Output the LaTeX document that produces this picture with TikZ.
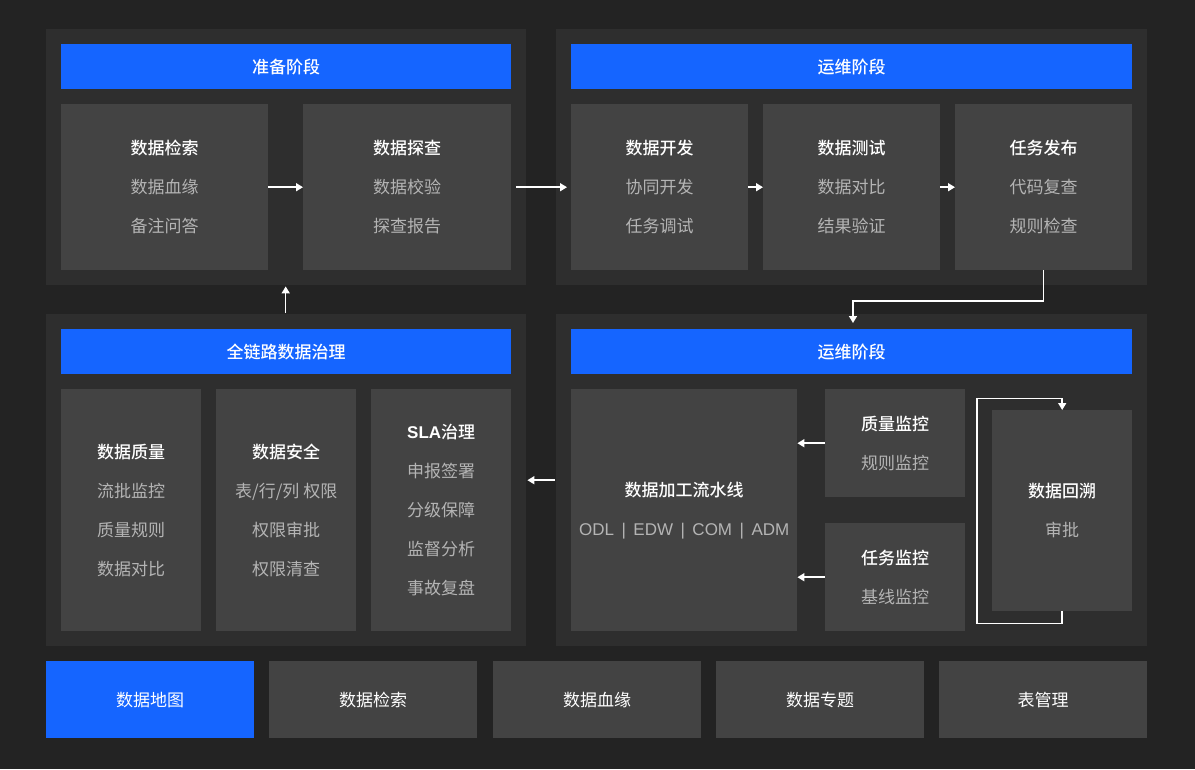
\documentclass[tikz,border=0pt]{standalone}
\usepackage{fontspec}
\setmainfont{Noto Sans CJK SC}[BoldFont={Noto Sans CJK SC Medium}]
\newfontfamily\latinfont{Liberation Sans}
\usetikzlibrary{arrows.meta,positioning,calc}
\definecolor{bgdark}{HTML}{232323}
\definecolor{panelgray}{HTML}{2E2E2E}
\definecolor{boxgray}{HTML}{434343}
\definecolor{headblue}{HTML}{1565FF}
\definecolor{subgray}{HTML}{B4B4B4}
\newcommand{\sub}[1]{{\color{subgray}#1}}
\newcommand{\sepbar}{\hspace{7.5pt}|\hspace{7.5pt}}
\tikzset{
  panel/.style={fill=panelgray, anchor=north west, inner sep=0pt},
  header/.style={fill=headblue, anchor=north west, minimum height=45, inner sep=0pt,
    text=white, font=\fontsize{17pt}{20pt}\selectfont\bfseries},
  card/.style={fill=boxgray, anchor=north west, inner sep=0pt, align=center,
    text=white, font=\fontsize{17pt}{39pt}\selectfont},
  navbox/.style={fill=boxgray, anchor=north west, inner sep=0pt, minimum width=208,
    minimum height=77, text=white, font=\fontsize{17pt}{20pt}\selectfont},
  arr/.style={draw=white, line width=1.5pt, -{Triangle[length=7pt,width=8pt]}}
}
\begin{document}
\begin{tikzpicture}[x=1pt,y=-1pt]
  \path[use as bounding box, fill=bgdark] (0,0) rectangle (1195,769);

  % panels
  \node[panel, minimum width=480, minimum height=256] (p1) at (46,29) {};
  \node[panel, minimum width=591, minimum height=256] (p2) at (556,29) {};
  \node[panel, minimum width=480, minimum height=332] (p3) at (46,314) {};
  \node[panel, minimum width=591, minimum height=332] (p4) at (556,314) {};

  % preparation
  \node[header, minimum width=450] (h1) at (61,44) {准备阶段};
  \node[card, minimum width=207, minimum height=166] (search) at (61,104)
    {\textbf{数据检索}\\ \sub{数据血缘}\\ \sub{备注问答}};
  \node[card, minimum width=208, minimum height=166] (probe) at (303,104)
    {\textbf{数据探查}\\ \sub{数据校验}\\ \sub{探查报告}};

  % development
  \node[header, minimum width=561] (h2) at (571,44) {运维阶段};
  \node[card, minimum width=177, minimum height=166] (dev) at (571,104)
    {\textbf{数据开发}\\ \sub{协同开发}\\ \sub{任务调试}};
  \node[card, minimum width=177, minimum height=166] (test) at (763,104)
    {\textbf{数据测试}\\ \sub{数据对比}\\ \sub{结果验证}};
  \node[card, minimum width=177, minimum height=166] (publish) at (955,104)
    {\textbf{任务发布}\\ \sub{代码复查}\\ \sub{规则检查}};

  % governance
  \node[header, minimum width=450] (h3) at (61,329) {全链路数据治理};
  \node[card, minimum width=140, minimum height=242] (quality) at (61,389)
    {\textbf{数据质量}\\ \sub{流批监控}\\ \sub{质量规则}\\ \sub{数据对比}};
  \node[card, minimum width=140, minimum height=242] (safety) at (216,389)
    {\textbf{数据安全}\\ \sub{表/行/列 权限}\\ \sub{权限审批}\\ \sub{权限清查}};
  \node[card, minimum width=140, minimum height=242] (sla) at (371,389)
    {\textbf{{\latinfont SLA}治理}\\ \sub{申报签署}\\ \sub{分级保障}\\ \sub{监督分析}\\ \sub{事故复盘}};

  % operation
  \node[header, minimum width=561] (h4) at (571,329) {运维阶段};
  \node[card, minimum width=226, minimum height=242] (pipe) at (571,389)
    {\textbf{数据加工流水线}\\ \sub{\latinfont ODL\sepbar EDW\sepbar COM\sepbar ADM}};
  \node[card, minimum width=140, minimum height=108] (qmon) at (825,389)
    {\textbf{质量监控}\\ \sub{规则监控}};
  \node[card, minimum width=140, minimum height=108] (tmon) at (825,523)
    {\textbf{任务监控}\\ \sub{基线监控}};
  \node[card, minimum width=140, minimum height=201] (trace) at (992,410)
    {\textbf{数据回溯}\\ \sub{审批}};

  % bottom bar
  \node[navbox, fill=headblue] (map) at (46,661) {数据地图};
  \node[navbox] (nsearch) at (269,661) {数据检索};
  \node[navbox] (nline) at (493,661) {数据血缘};
  \node[navbox] (ntopic) at (716,661) {数据专题};
  \node[navbox] (ntable) at (939,661) {表管理};

  % flow
  \draw[arr] (search.east) -- (probe.west);
  \draw[arr, shorten <=5pt, shorten >=4pt] (probe.east) -- (dev.west);
  \draw[arr] (dev.east) -- (test.west);
  \draw[arr] (test.east) -- (publish.west);
  \coordinate (turn) at (853,301);
  \draw[arr, shorten >=6pt] (publish.south) |- (turn) -- (turn |- h4.north);
  \draw[arr] (qmon.west) -- (pipe.east |- qmon.west);
  \draw[arr] (tmon.west) -- (pipe.east |- tmon.west);
  \draw[arr] (trace.south) -- ++(0,12) -- ++(-85,0) -- ++(0,-225) -- ++(85,0) -- (trace.north);
  \draw[arr, shorten <=1pt, shorten >=1pt] (p4.west) -- (p3.east);
  \coordinate (gap) at ($(search.east)!0.5!(probe.west)$);
  \draw[arr, shorten <=1pt, shorten >=1pt] (gap |- p3.north) -- (gap |- p1.south);
\end{tikzpicture}
\end{document}
